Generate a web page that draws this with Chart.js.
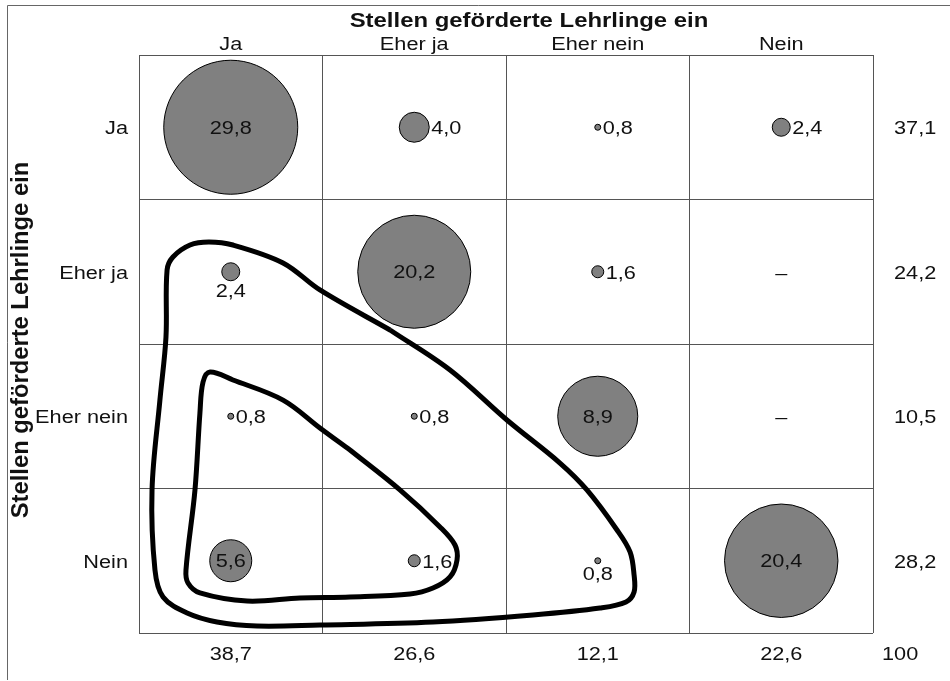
<!DOCTYPE html>
<html><head><meta charset="utf-8">
<script src="https://cdn.jsdelivr.net/npm/chart.js@4/dist/chart.umd.min.js"></script>
<style>html,body{margin:0;padding:0;background:#fff}canvas{display:block}</style>
</head><body>
<canvas id="c" width="950" height="681"></canvas>
<script>
// ---- data ----
const axisTitle = 'Stellen geförderte Lehrlinge ein';
const colLabels = ['Ja', 'Eher ja', 'Eher nein', 'Nein'];
const rowLabels = ['Ja', 'Eher ja', 'Eher nein', 'Nein'];
const rowJa       = [29.8, 4.0, 0.8, 2.4];
const rowEherJa   = [2.4, 20.2, 1.6, null];
const rowEherNein = [0.8, 0.8, 8.9, null];
const rowNein     = [5.6, 1.6, 0.8, 20.4];
const rowTotals = [37.1, 24.2, 10.5, 28.2];
const colTotals = [38.7, 26.6, 12.1, 22.6];
const grandTotal = 100;
// hand-drawn outlines, in column / row units
const outerLoop = [
  {x:0.868,y:1.403},{x:1.195,y:1.680},{x:1.505,y:2.026},{x:1.794,y:2.324},{x:1.941,y:2.510},
  {x:2.105,y:2.787},{x:2.176,y:2.939},{x:2.198,y:3.099},{x:2.198,y:3.216},{x:2.154,y:3.285},
  {x:2.012,y:3.327},{x:1.647,y:3.375},{x:1.102,y:3.424},{x:0.486,y:3.445},{x:0.143,y:3.452},
  {x:-0.075,y:3.424},{x:-0.238,y:3.362},{x:-0.369,y:3.251},{x:-0.413,y:3.064},{x:-0.429,y:2.510},
  {x:-0.386,y:1.888},{x:-0.353,y:1.452},{x:-0.347,y:0.988},{x:-0.315,y:0.898},{x:-0.222,y:0.815},
  {x:-0.119,y:0.794},{x:0.012,y:0.815},{x:0.285,y:0.939},{x:0.486,y:1.126},{x:0.868,y:1.403}
];
const innerLoop = [
  {x:0.650,y:2.234},{x:0.922,y:2.510},{x:1.140,y:2.766},{x:1.222,y:2.891},{x:1.233,y:2.995},
  {x:1.195,y:3.112},{x:1.102,y:3.189},{x:0.977,y:3.230},{x:0.650,y:3.251},{x:0.377,y:3.258},
  {x:0.089,y:3.279},{x:-0.168,y:3.223},{x:-0.233,y:3.154},{x:-0.244,y:3.064},{x:-0.195,y:2.510},
  {x:-0.168,y:1.978},{x:-0.151,y:1.763},{x:-0.113,y:1.694},{x:0.012,y:1.749},{x:0.285,y:1.888},
  {x:0.486,y:2.081},{x:0.650,y:2.234}
];

// ---- build ----
const matrix = [rowJa, rowEherJa, rowEherNein, rowNein];
function bubbleRadius(v) { return v < 6 ? 3.75 * v : 10.9 * Math.sqrt(v) + 7.5; }
const fmt = v => v.toFixed(1).replace('.', ',');
const bubbles = [];
matrix.forEach((row, r) => row.forEach((v, c) => {
  if (v !== null) bubbles.push({x: c, y: r, r: bubbleRadius(v), v: v, row: r, col: c});
}));

const FONT = '"Liberation Sans", Arial, Helvetica, sans-serif';
const SX = 1.24;
const GRID = '#555';

const textPlugin = {
  id: 'matrixText',
  beforeDraw(chart) {
    const ctx = chart.ctx;
    ctx.save();
    ctx.fillStyle = '#fff';
    ctx.fillRect(0, 0, chart.width, chart.height);
    ctx.strokeStyle = '#666';
    ctx.lineWidth = 1;
    ctx.beginPath();
    ctx.moveTo(7.5, 680);
    ctx.lineTo(7.5, 5.5);
    ctx.lineTo(chart.width, 5.5);
    ctx.stroke();
    ctx.restore();
  },
  afterDatasetsDraw(chart, args, opts) {
    const ctx = chart.ctx, xs = chart.scales.x, ys = chart.scales.y, area = chart.chartArea;
    const put = (t, x, y, align, font, sx) => {
      ctx.save();
      ctx.font = font;
      ctx.textAlign = align;
      ctx.textBaseline = 'alphabetic';
      ctx.translate(x, y);
      ctx.scale(sx || SX, 1);
      ctx.fillText(t, 0, 0);
      ctx.restore();
    };
    const f = '17.5px ' + FONT;
    ctx.save();
    ctx.fillStyle = '#111';
    put(axisTitle, (area.left + area.right) / 2 + 23, 27, 'center', 'bold 19.3px ' + FONT);
    colLabels.forEach((l, i) => put(l, xs.getPixelForValue(i), area.top - 5, 'center', f));
    rowLabels.forEach((l, j) => put(l, area.left - 11, ys.getPixelForValue(j) + 7, 'right', f));
    rowTotals.forEach((v, j) => put(fmt(v), area.right + 21, ys.getPixelForValue(j) + 7, 'left', f));
    colTotals.forEach((v, i) => put(fmt(v), xs.getPixelForValue(i), area.bottom + 27, 'center', f));
    put(String(grandTotal), area.right + 9, area.bottom + 27, 'left', f);

    const meta = chart.getDatasetMeta(0);
    meta.data.forEach((el, k) => {
      const d = bubbles[k];
      const r = el.options.radius;
      const key = d.row + '-' + d.col;
      if (d.v >= 5) put(fmt(d.v), el.x, el.y + 6.5, 'center', f);
      else if (opts.below.includes(key)) put(fmt(d.v), el.x, el.y + r + 16, 'center', f);
      else put(fmt(d.v), el.x + r + 2, el.y + 7, 'left', f);
    });
    matrix.forEach((row, r) => row.forEach((v, c) => {
      if (v === null) put('\u2013', xs.getPixelForValue(c), ys.getPixelForValue(r) + 7, 'center', f);
    }));

    // vertical title
    ctx.save();
    ctx.font = 'bold 22px ' + FONT;
    ctx.textAlign = 'center';
    ctx.textBaseline = 'alphabetic';
    ctx.translate(28, (area.top + area.bottom) / 2 - 4);
    ctx.rotate(-Math.PI / 2);
    ctx.scale(1.08, 1.05);
    ctx.fillText(axisTitle, 0, 0);
    ctx.restore();
    ctx.restore();
  }
};

const zeroFit = (s, horiz) => {
  if (horiz) s.height = 0; else s.width = 0;
  s.paddingTop = 0; s.paddingBottom = 0; s.paddingLeft = 0; s.paddingRight = 0;
};

new Chart(document.getElementById('c'), {
  type: 'bubble',
  data: {
    datasets: [
      {
        label: 'Anteil', data: bubbles, order: 2,
        backgroundColor: '#808080', borderColor: '#000', borderWidth: 1
      },
      {
        type: 'line', label: 'outer', data: outerLoop, order: 1,
        borderColor: '#000', borderWidth: 5, pointRadius: 0, tension: 0.35, fill: false
      },
      {
        type: 'line', label: 'inner', data: innerLoop, order: 1,
        borderColor: '#000', borderWidth: 5, pointRadius: 0, tension: 0.35, fill: false
      }
    ]
  },
  options: {
    responsive: false,
    animation: false,
    events: [],
    devicePixelRatio: 1,
    layout: { autoPadding: false, padding: { left: 139, right: 77, top: 55, bottom: 48 } },
    plugins: {
      legend: { display: false },
      tooltip: { enabled: false },
      matrixText: { below: ['1-0', '3-2'] }
    },
    scales: {
      x: {
        type: 'linear', min: -0.5, max: 3.5,
        afterBuildTicks: s => { s.ticks = colLabels.map((_, i) => ({ value: i })); },
        afterFit: s => zeroFit(s, true),
        ticks: { display: false },
        grid: { offset: true, color: GRID, lineWidth: 1, drawTicks: false },
        border: { display: false }
      },
      y: {
        type: 'linear', min: -0.5, max: 3.5, reverse: true,
        afterBuildTicks: s => { s.ticks = rowLabels.map((_, i) => ({ value: i })); },
        afterFit: s => zeroFit(s, false),
        ticks: { display: false },
        grid: { offset: true, color: GRID, lineWidth: 1, drawTicks: false },
        border: { display: false }
      }
    }
  },
  plugins: [textPlugin]
});
</script>
</body></html>
